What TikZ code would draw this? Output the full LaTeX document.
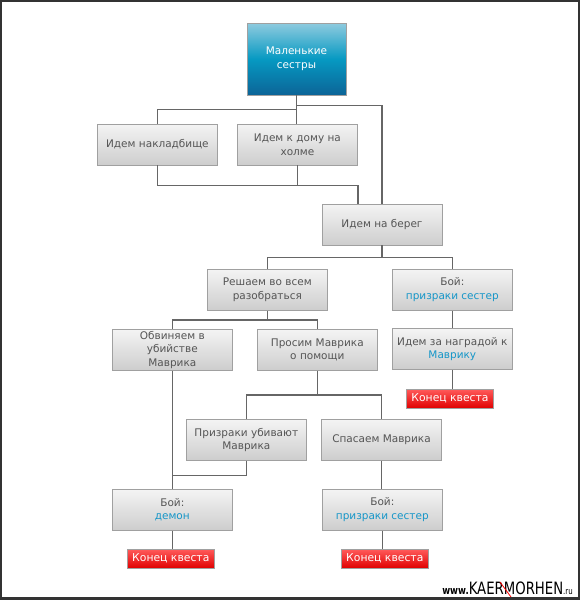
\documentclass[tikz,border=0pt]{standalone}
\usepackage{fontspec}
\setmainfont{DejaVu Sans}
\usetikzlibrary{calc}
\definecolor{txt}{HTML}{555555}
\definecolor{bl}{HTML}{1596C8}
\definecolor{ln}{HTML}{666666}
\definecolor{bord}{HTML}{A0A0A0}
\definecolor{gtop}{HTML}{F4F4F4}
\definecolor{gbot}{HTML}{CDCDCD}
\definecolor{ttop}{HTML}{8FCBDF}
\definecolor{tmid}{HTML}{0699C2}
\definecolor{tbot}{HTML}{0C6497}
\definecolor{rtop}{HTML}{FF5A5A}
\definecolor{rbot}{HTML}{E00000}
\definecolor{frame}{HTML}{333333}
\begin{document}
\begin{tikzpicture}[x=1pt,y=1pt,
  gbox/.style={draw=bord, line width=0.8pt, top color=gtop, bottom color=gbot,
    minimum width=120, minimum height=41, inner sep=0pt, align=center,
    text=txt, font=\fontsize{10.5}{13.5}\selectfont},
  topbox/.style={draw=bord, line width=0.8pt, top color=ttop, bottom color=tbot, middle color=tmid,
    minimum width=99, minimum height=72, inner sep=0pt, align=center,
    text=white, font=\fontsize{10.5}{13.5}\selectfont},
  endbox/.style={draw=bord, line width=0.8pt, top color=rtop, bottom color=rbot,
    minimum width=87, minimum height=19, inner sep=0pt, align=center,
    text=white, font=\fontsize{10.8}{13}\selectfont},
  conn/.style={draw=ln, line width=1.5pt},
  hl/.style={text=bl}]
\useasboundingbox (0,0) rectangle (580,-600);
\fill[white] (0,0) rectangle (580,-600);
\draw[frame, line width=2.2pt] (1.1,-1.1) rectangle (578.9,-598.4);

% nodes
\node[topbox] (top) at (296.5,-59) {Маленькие\\сестры};
\node[gbox] (b1) at (157.4,-144.5) {Идем накладбище};
\node[gbox] (b2) at (297.4,-144.5) {Идем к дому на\\холме};
\node[gbox] (shore) at (382,-224.5) {Идем на берег};
\node[gbox] (decide) at (267.3,-289.7) {Решаем во всем\\разобраться};
\node[gbox] (fight1) at (452.3,-289.7) {Бой:\\{\color{bl}призраки сестер}};
\node[gbox] (accuse) at (172.3,-349.8) {Обвиняем в\\убийстве\\Маврика};
\node[gbox] (ask) at (317.3,-349.8) {Просим Маврика\\о помощи};
\node[gbox] (reward) at (452.3,-349) {Идем за наградой к\\{\color{bl}Маврику}};
\node[endbox] (end1) at (450,-398.8) {Конец квеста};
\node[gbox] (kill) at (246.3,-439.8) {Призраки убивают\\Маврика};
\node[gbox] (save) at (381.5,-439.8) {Спасаем Маврика};
\node[gbox] (demon) at (172.3,-509.8) {Бой:\\{\color{bl}демон}};
\node[gbox] (fight2) at (382.3,-509.8) {Бой:\\{\color{bl}призраки сестер}};
\node[endbox] (end2) at (170.8,-558.8) {Конец квеста};
\node[endbox] (end3) at (384.8,-558.8) {Конец квеста};

\coordinate (shoreL) at ([xshift=-24pt]shore.north);

% connectors
\draw[conn] (top.south) -- ++(0,-14) -| (b1.north);
\draw[conn] (top.south) -- (top.south |- b2.north);
\draw[conn] (top.south) -- ++(0,-10) -| (shore.north);
\draw[conn] (b1.south) -- ++(0,-20) coordinate (j1) -| (shoreL);
\draw[conn] (b2.south) -- (b2.south |- j1);
\draw[conn] (shore.south) -- ++(0,-12) coordinate (j2) -| (decide.north);
\draw[conn] (j2) -| (fight1.north);
\draw[conn] (decide.south) -- ++(0,-9.5) coordinate (j3) -| (accuse.north);
\draw[conn] (j3) -| (ask.north);
\draw[conn] (fight1.south) -- (fight1.south |- reward.north);
\draw[conn] (reward.south) -- (reward.south |- end1.north);
\draw[conn] (ask.south) -- ++(0,-24.5) coordinate (j4) -| (kill.north);
\draw[conn] (j4) -| (save.north);
\draw[conn] (accuse.south) -- (accuse.south |- demon.north);
\draw[conn] (kill.south) -- ++(0,-15) coordinate (j5);
\draw[conn] (j5) -- (j5 -| accuse.south);
\draw[conn] (save.south) -- (save.south |- fight2.north);
\draw[conn] (fight2.south) -- (fight2.south |- end3.north);
\draw[conn] (demon.south) -- (demon.south |- end2.north);

% watermark
\node[anchor=base east, inner sep=0pt] (wm) at (573,-594.5) {\scalebox{0.78}[1]{\bfseries\fontsize{11}{11}\selectfont www.\fontsize{17}{17}\selectfont\mdseries KAERMORHEN\fontsize{9}{9}\selectfont.ru}};
\draw[red, line width=0.8pt] (500,-582) -- (511,-597);
\end{tikzpicture}
\end{document}
